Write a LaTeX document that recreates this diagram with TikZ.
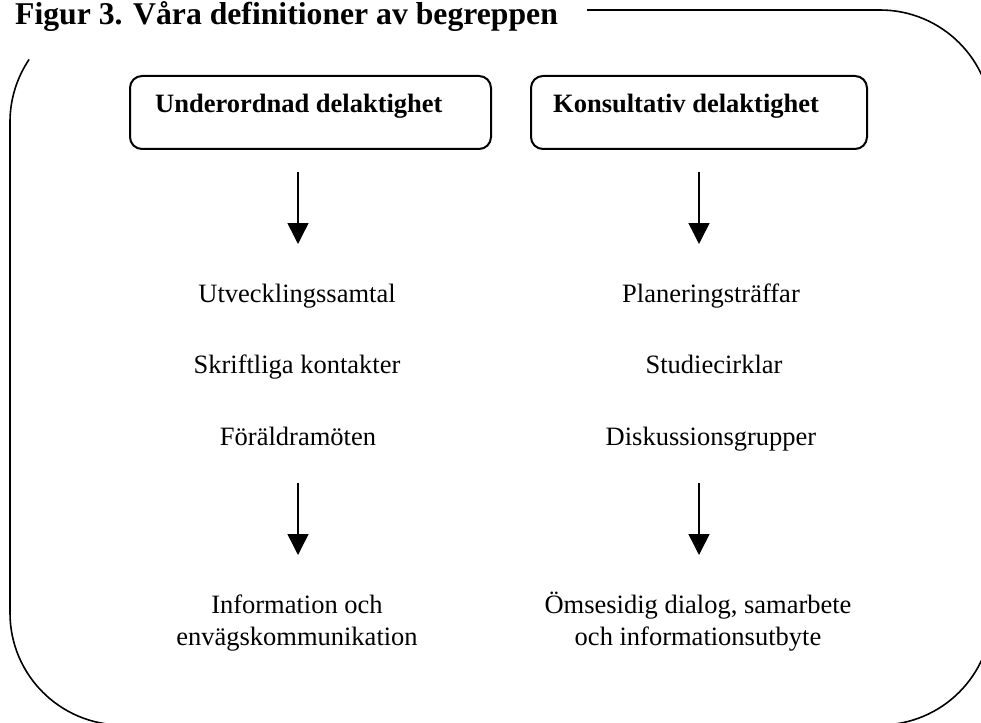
\documentclass[tikz,border=0pt]{standalone}
\usepackage{fontspec}
\setmainfont{Liberation Serif}
\usetikzlibrary{arrows.meta}
\tikzset{
  frameline/.style={line width=1.6pt},
  catbox/.style={draw, line width=2pt, rounded corners=12pt, inner sep=0pt, minimum width=361pt, minimum height=73pt},
  cattext/.style={inner sep=0pt, anchor=base west, font=\fontsize{26.5}{32}\selectfont\bfseries},
  item/.style={inner sep=0pt, anchor=base, font=\fontsize{26.5}{32}\selectfont},
  result/.style={inner sep=0pt, anchor=base, align=center, font=\fontsize{26.5}{32}\selectfont},
  flow/.style={line width=1.5pt, -{Triangle[width=21pt,length=21pt]}},
  titletext/.style={inner sep=0pt, anchor=base west, font=\fontsize{31.7}{36}\selectfont\bfseries}
}
\begin{document}
\begin{tikzpicture}[x=1pt,y=-1pt]
\useasboundingbox (0,0) rectangle (981,722);
\fill[white] (0,0) rectangle (981,722);
\clip (0,0) rectangle (981,722);
% big frame
\draw[frameline] ([shift={(214:112)}]122,122) arc[start angle=214, end angle=180, radius=112]
  -- (10,613) arc[start angle=180, end angle=90, radius=112]
  -- (880,725) arc[start angle=90, end angle=0, radius=112]
  -- (992,122) arc[start angle=0, end angle=-90, radius=112]
  -- (587,10);
% title
\node[titletext] (title) at (15,25) {Figur 3. Våra definitioner av begreppen};
% category boxes
\node[catbox] (box1) at (310.5,112.5) {};
\node[cattext] (cat1) at (155,113) {Underordnad delaktighet};
\node[catbox, minimum width=336pt] (box2) at (699,112.5) {};
\node[cattext] (cat2) at (553,113) {Konsultativ delaktighet};
% first arrows
\coordinate (l1s) at (298,172);
\coordinate (l1e) at (298,244);
\coordinate (r1s) at (699,172);
\coordinate (r1e) at (699,244);
\draw[flow] (l1s) -- (l1e);
\draw[flow] (r1s) -- (r1e);
% items
\node[item] (u1) at (297,302) {Utvecklingssamtal};
\node[item] (u2) at (297,373) {Skriftliga kontakter};
\node[item] (u3) at (298,445) {Föräldramöten};
\node[item] (k1) at (711,302) {Planeringsträffar};
\node[item] (k2) at (714,373) {Studiecirklar};
\node[item] (k3) at (711,445) {Diskussionsgrupper};
% second arrows
\coordinate (l2s) at (298,483);
\coordinate (l2e) at (298,555);
\coordinate (r2s) at (699,483);
\coordinate (r2e) at (699,555);
\draw[flow] (l2s) -- (l2e);
\draw[flow] (r2s) -- (r2e);
% results
\node[result] (res1) at (297,645) {Information och\\envägskommunikation};
\node[result] (res2) at (698,645) {Ömsesidig dialog, samarbete\\och informationsutbyte};
\end{tikzpicture}
\end{document}
